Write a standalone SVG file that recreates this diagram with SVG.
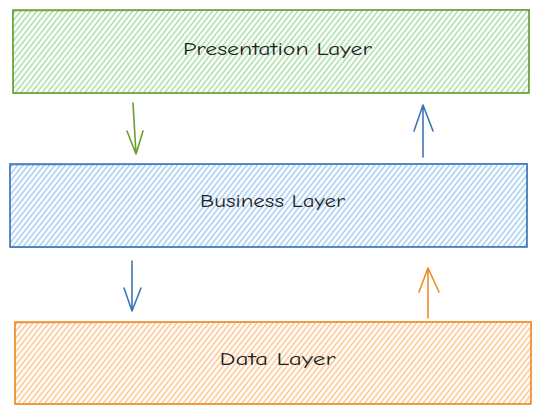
<svg xmlns="http://www.w3.org/2000/svg" width="541" height="414" viewBox="0 0 541 414">
<defs>
<pattern id="hg" width="10" height="4.2" patternUnits="userSpaceOnUse" patternTransform="rotate(-52)"><line x1="0" y1="2.1" x2="10" y2="2.1" stroke="#a2daa2" stroke-width="1.4"/></pattern>
<pattern id="hb" width="10" height="4.2" patternUnits="userSpaceOnUse" patternTransform="rotate(-52)"><line x1="0" y1="2.1" x2="10" y2="2.1" stroke="#9cc8f1" stroke-width="1.4"/></pattern>
<pattern id="ho" width="10" height="4.2" patternUnits="userSpaceOnUse" patternTransform="rotate(-52)"><line x1="0" y1="2.1" x2="10" y2="2.1" stroke="#ffbf85" stroke-width="1.4"/></pattern>
</defs>
<style>
.lbl{font-family:"Comic Neue","Liberation Sans",sans-serif;font-size:17px;fill:#1e1e1e;text-anchor:middle}
.edge{fill:none;stroke-width:1.6;stroke-linecap:round;stroke-linejoin:round}
.box{stroke-width:1.6}
.sk{fill:none;stroke-width:0.9;opacity:0.7}
</style>
<rect width="541" height="414" fill="#ffffff"/>
<g id="presentation">
<rect class="box" x="13" y="10" width="516" height="83" fill="url(#hg)" stroke="#6a9f35"/>
<path class="sk" d="M12.5 11 L529.5 9.5 L528.5 92.5 L13.5 93.5 Z" stroke="#6a9f35"/>
<text class="lbl" x="277.5" y="55" textLength="189" lengthAdjust="spacingAndGlyphs">Presentation Layer</text>
</g>
<g id="business">
<rect class="box" x="10" y="164" width="517" height="83" fill="url(#hb)" stroke="#3d77b7"/>
<path class="sk" d="M9.5 165 L527.5 163.5 L526.5 246.5 L10.5 247.5 Z" stroke="#3d77b7"/>
<text class="lbl" x="272.5" y="207" textLength="145" lengthAdjust="spacingAndGlyphs">Business Layer</text>
</g>
<g id="data">
<rect class="box" x="15" y="322" width="516" height="82" fill="url(#ho)" stroke="#f08c28"/>
<path class="sk" d="M14.5 323 L531.5 321.5 L530.5 403.5 L15.5 404.5 Z" stroke="#f08c28"/>
<text class="lbl" x="277.5" y="365" textLength="116" lengthAdjust="spacingAndGlyphs">Data Layer</text>
</g>
<g id="connectors">
<path class="edge" stroke="#6a9f35" d="M133 103 L136 154 M127 131 L136 154 L143 131"/>
<path class="edge" stroke="#3d77b7" d="M423 157 L423 105 M414 131 L423 105 L433 131"/>
<path class="edge" stroke="#3d77b7" d="M132 261 L132 311 M124 288 L132 311 L141 288"/>
<path class="edge" stroke="#f08c28" d="M428 318 L428 268 M419 292 L428 268 L439 292"/>
</g>
</svg>
